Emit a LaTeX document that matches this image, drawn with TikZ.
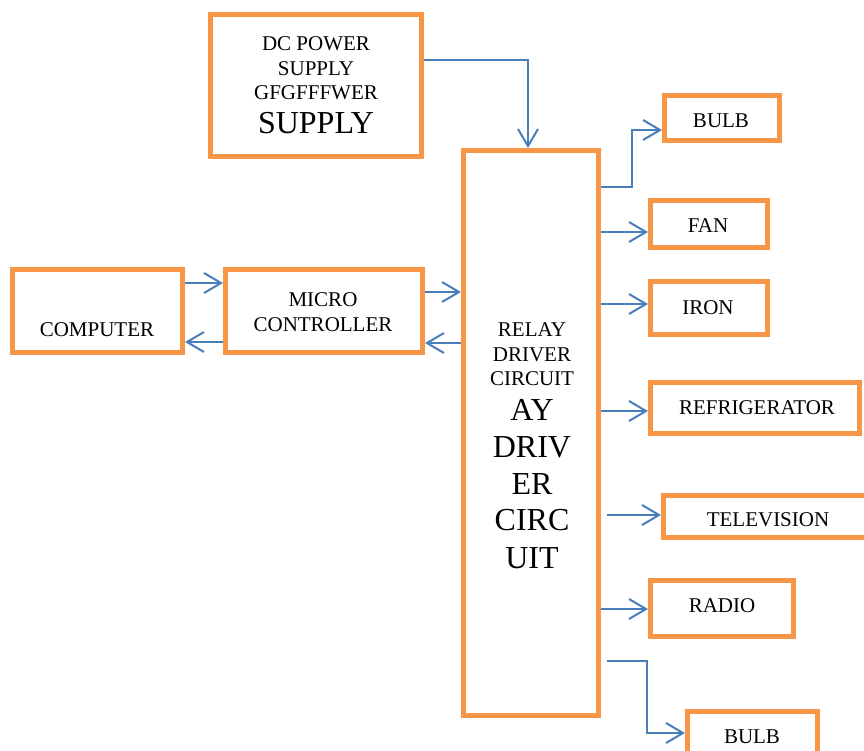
\documentclass[tikz,border=0pt]{standalone}
\usepackage{fontspec}
\setmainfont{Liberation Serif}
\usepackage{tikz}
\usetikzlibrary{arrows.meta}
\definecolor{boxorange}{HTML}{F79646}
\definecolor{wireblue}{HTML}{4A7EBB}
\tikzstyle{block} = [draw=boxorange, line width=2.5pt, rectangle]
\tikzstyle{wire} = [draw=wireblue, line width=1pt, -{Straight Barb[length=8.5pt,width=10pt]}]
\tikzstyle{lbl} = [anchor=base, inner sep=0pt, font=\fontsize{10.5}{12}\selectfont]
\tikzstyle{biglbl} = [anchor=base, inner sep=0pt, font=\fontsize{16}{19}\selectfont]

\begin{document}
\begin{tikzpicture}[x=0.5pt, y=-0.5pt]
      \useasboundingbox (0,0) rectangle (864,751);

      % boxes
      \node (dc) at (316,85.5) [block, minimum width=105.5pt, minimum height=71pt] {};
      \node (relay) at (531,433) [block, minimum width=67.5pt, minimum height=282.5pt] {};
      \node (comp) at (97.5,311) [block, minimum width=85pt, minimum height=41.5pt] {};
      \node (micro) at (324,311) [block, minimum width=98.5pt, minimum height=41.5pt] {};
      \node (bulba) at (722,118) [block, minimum width=57.5pt, minimum height=22.5pt] {};
      \node (fan) at (709,224) [block, minimum width=58.5pt, minimum height=23.5pt] {};
      \node (iron) at (709,308) [block, minimum width=58.5pt, minimum height=26.5pt] {};
      \node (fridge) at (755,408) [block, minimum width=104.5pt, minimum height=25.5pt] {};
      \node (tv) at (767.5,516.5) [block, minimum width=104pt, minimum height=21pt] {};
      \node (radio) at (722,608.5) [block, minimum width=71.5pt, minimum height=28pt] {};
      \node (bulbb) at (752.5,734.5) [block, minimum width=65pt, minimum height=23pt] {};

      % texts
      \node (dcta) at (316,50) [lbl] {DC POWER};
      \node (dctb) at (316,75) [lbl] {SUPPLY};
      \node (dctc) at (316,99) [lbl] {GFGFFFWER};
      \node (dctd) at (316,133) [biglbl] {SUPPLY};
      \node (compt) at (97,336) [lbl] {COMPUTER};
      \node (microta) at (323,306) [lbl] {MICRO};
      \node (microtb) at (323,331) [lbl] {CONTROLLER};
      \node (relayta) at (532,336) [lbl] {RELAY};
      \node (relaytb) at (532,361) [lbl] {DRIVER};
      \node (relaytc) at (532,385) [lbl] {CIRCUIT};
      \node (relaytd) at (532,420) [biglbl] {AY};
      \node (relayte) at (532,457) [biglbl] {DRIV};
      \node (relaytf) at (532,494) [biglbl] {ER};
      \node (relaytg) at (532,530) [biglbl] {CIRC};
      \node (relayth) at (532,568) [biglbl] {UIT};
      \node (bulbat) at (721,127) [lbl] {BULB};
      \node (fant) at (708,232) [lbl] {FAN};
      \node (ironT) at (708,314) [lbl] {IRON};
      \node (fridget) at (757,414) [lbl] {REFRIGERATOR};
      \node (tvt) at (768,526) [lbl] {TELEVISION};
      \node (radiot) at (722,612) [lbl] {RADIO};
      \node (bulbbt) at (752,743) [lbl] {BULB};

      % connectors
      \draw[wire] (dc.east |- 0,60) -| (relay.north -| 528,0);
      \draw[wire] (comp.east |- 0,283) -- (micro.west |- 0,283);
      \draw[wire] (micro.west |- 0,342) -- (comp.east |- 0,342);
      \draw[wire] (micro.east |- 0,292) -- (relay.west |- 0,292);
      \draw[wire] (relay.west |- 0,343) -- (micro.east |- 0,343);
      \draw[wire] (relay.east |- 0,187) -| (632,130) -- (bulba.west |- 0,130);
      \draw[wire] (relay.east |- 0,232) -- (fan.west |- 0,232);
      \draw[wire] (relay.east |- 0,304) -- (iron.west |- 0,304);
      \draw[wire] (relay.east |- 0,411) -- (fridge.west |- 0,411);
      \draw[wire] (607,515) -- (tv.west |- 0,515);
      \draw[wire] (relay.east |- 0,609) -- (radio.west |- 0,609);
      \draw[wire] (607,661) -| (647,733) -- (bulbb.west |- 0,733);
    \end{tikzpicture}
\end{document}
